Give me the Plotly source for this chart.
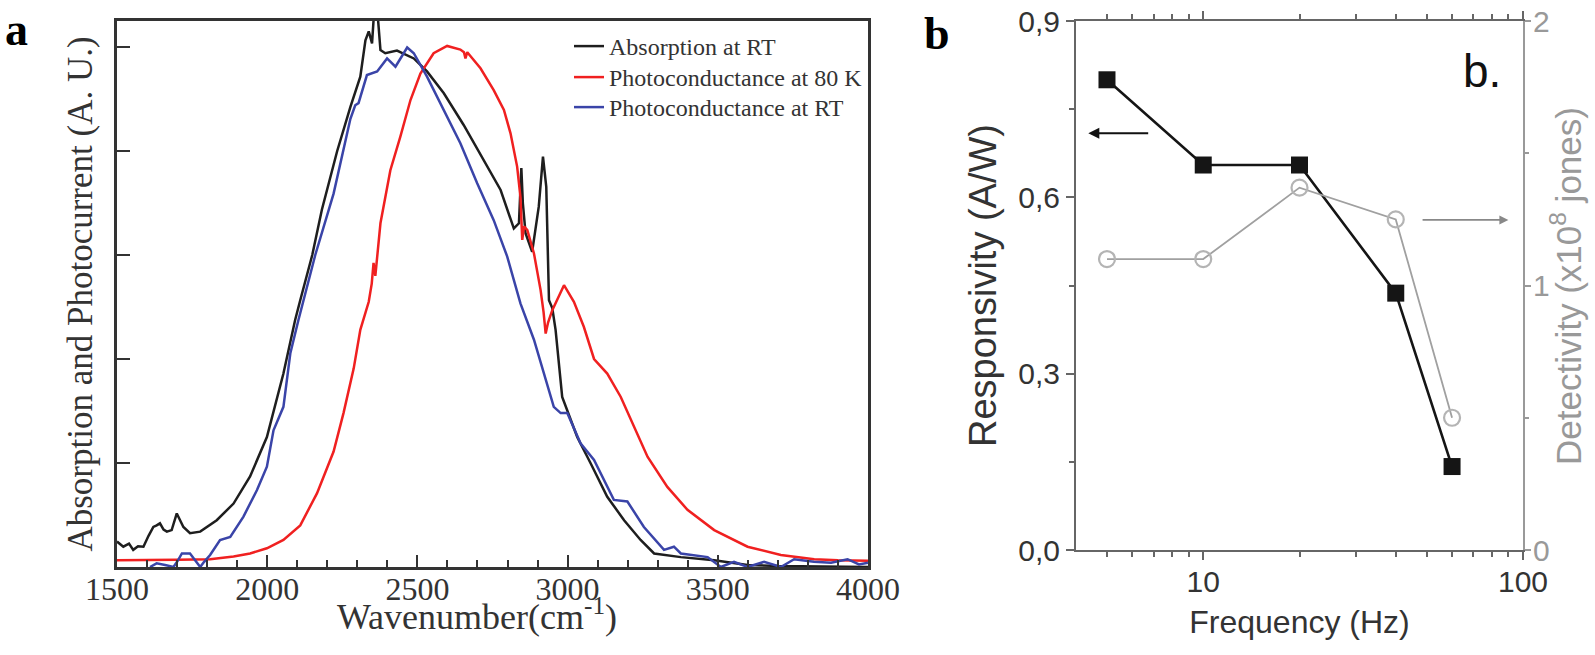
import numpy as np
import plotly.graph_objects as go

# ---------------- Panel a: spectra ----------------
abs_x = [1500, 1521, 1540, 1554, 1570, 1588, 1605, 1621, 1632, 1643, 1655, 1666, 1682, 1699,
         1710, 1721, 1743, 1777, 1832, 1888, 1943, 1999, 2054, 2093, 2110, 2150, 2182, 2233,
         2277, 2310, 2327, 2338, 2349, 2355, 2360, 2368, 2377, 2393, 2432, 2488, 2532, 2588,
         2654, 2721, 2777, 2821, 2838, 2846, 2851, 2860, 2882, 2904, 2918, 2929, 2938, 2949,
         2960, 2982, 3032, 3077, 3132, 3188, 3243, 3288, 3377, 3488, 3599, 3700, 3800, 3900, 4000]
abs_y = [0.049, 0.039, 0.045, 0.033, 0.040, 0.039, 0.060, 0.077, 0.080, 0.084, 0.072, 0.068, 0.071, 0.103,
         0.090, 0.077, 0.065, 0.068, 0.090, 0.122, 0.174, 0.250, 0.372, 0.475, 0.513, 0.600, 0.687, 0.800,
         0.885, 0.943, 1.013, 1.030, 1.007, 1.060, 1.060, 1.060, 0.994, 0.988, 0.993, 0.978, 0.953, 0.911,
         0.850, 0.783, 0.725, 0.651, 0.661, 0.767, 0.700, 0.642, 0.606, 0.693, 0.789, 0.731, 0.513, 0.498,
         0.456, 0.327, 0.250, 0.199, 0.135, 0.090, 0.052, 0.026, 0.019, 0.013, 0.004, 0.002, 0.001, 0.0, 0.0]

pc80_x = [1500, 1600, 1700, 1810, 1888, 1943, 1999, 2054, 2110, 2166, 2221, 2254, 2288, 2310, 2338,
          2348, 2354, 2360, 2377, 2410, 2443, 2477, 2510, 2554, 2599, 2643, 2655, 2660, 2666, 2710,
          2754, 2788, 2810, 2832, 2843, 2849, 2855, 2866, 2888, 2910, 2920, 2927, 2935, 2949, 2988,
          3021, 3054, 3088, 3132, 3177, 3221, 3266, 3332, 3399, 3488, 3599, 3710, 3821, 3900, 4000]
pc80_y = [0.013, 0.013, 0.014, 0.015, 0.020, 0.026, 0.036, 0.052, 0.080, 0.142, 0.222, 0.296, 0.382, 0.456, 0.510,
          0.545, 0.585, 0.560, 0.661, 0.763, 0.827, 0.898, 0.949, 0.988, 1.002, 0.995, 0.990, 0.978, 0.990, 0.959,
          0.917, 0.879, 0.834, 0.770, 0.712, 0.629, 0.655, 0.648, 0.603, 0.533, 0.490, 0.449, 0.470, 0.494, 0.542,
          0.510, 0.462, 0.400, 0.372, 0.327, 0.270, 0.212, 0.154, 0.110, 0.071, 0.039, 0.023, 0.015, 0.013, 0.012]

pcrt_x = [1610, 1632, 1660, 1688, 1700, 1716, 1743, 1760, 1777, 1790, 1810, 1843, 1877, 1921, 1966,
          1999, 2021, 2054, 2077, 2104, 2121, 2160, 2221, 2277, 2293, 2304, 2332, 2366, 2399, 2427,
          2466, 2488, 2532, 2588, 2643, 2699, 2754, 2799, 2843, 2888, 2954, 2977, 2999, 3043, 3088,
          3154, 3199, 3254, 3321, 3354, 3377, 3466, 3510, 3554, 3599, 3654, 3710, 3754, 3820, 3877,
          3932, 3970, 4000]
pcrt_y = [0.000, 0.007, 0.004, 0.000, 0.010, 0.026, 0.026, 0.012, 0.000, 0.010, 0.023, 0.052, 0.058, 0.097, 0.148,
          0.193, 0.263, 0.308, 0.411, 0.475, 0.513, 0.600, 0.718, 0.862, 0.888, 0.892, 0.946, 0.953, 0.978, 0.962,
          0.999, 0.988, 0.943, 0.879, 0.815, 0.738, 0.667, 0.597, 0.507, 0.437, 0.308, 0.296, 0.296, 0.238, 0.206,
          0.129, 0.126, 0.077, 0.033, 0.039, 0.026, 0.019, 0.000, 0.010, 0.000, 0.010, 0.000, 0.015, 0.010, 0.008,
          0.015, 0.005, 0.008]

wn_ticks = [1500, 2000, 2500, 3000, 3500, 4000]
au_ticks = [0.2, 0.4, 0.6, 0.8, 1.0]

# ---------------- Panel b: responsivity / detectivity ----------------
freq = [5, 10, 20, 40, 60]
responsivity = [0.80, 0.655, 0.655, 0.437, 0.142]
detectivity = [1.10, 1.10, 1.37, 1.25, 0.50]
resp_ticks = [0.0, 0.3, 0.6, 0.9]
resp_ticktext = ["0,0", "0,3", "0,6", "0,9"]
det_ticks = [0, 1, 2]
freq_ticks = [10, 100]
freq_minor = [5, 6, 7, 8, 9, 20, 30, 40, 50, 60, 70, 80, 90]

SERIF = "Liberation Serif"
SANS = "Liberation Sans"
W, H = 1595, 655


def px(x):
    return x / W


def py(y):
    return 1 - y / H


fig = go.Figure()
fig.add_trace(go.Scatter(x=abs_x, y=abs_y, mode="lines", name="Absorption at RT",
                         line=dict(color="#1e1e1e", width=2.5), xaxis="x", yaxis="y",
                         legend="legend"))
fig.add_trace(go.Scatter(x=pc80_x, y=pc80_y, mode="lines", name="Photoconductance at 80 K",
                         line=dict(color="#f02020", width=2.5), xaxis="x", yaxis="y",
                         legend="legend2"))
fig.add_trace(go.Scatter(x=pcrt_x, y=pcrt_y, mode="lines", name="Photoconductance at RT",
                         line=dict(color="#3a44a8", width=2.5), xaxis="x", yaxis="y",
                         legend="legend3"))

fig.add_trace(go.Scatter(x=freq, y=detectivity, mode="lines+markers", showlegend=False,
                         name="Detectivity",
                         line=dict(color="#a0a0a0", width=1.8),
                         marker=dict(symbol="circle-open", size=16, color="#b4b4b4",
                                     line=dict(width=2.2)),
                         xaxis="x2", yaxis="y3"))
fig.add_trace(go.Scatter(x=freq, y=responsivity, mode="lines+markers", showlegend=False,
                         name="Responsivity",
                         line=dict(color="#151515", width=2.6),
                         marker=dict(symbol="square", size=17, color="#151515"),
                         xaxis="x2", yaxis="y2"))

ax_a_col = "#333333"
leg_common = dict(xanchor="left", yanchor="top", bgcolor="rgba(0,0,0,0)",
                  font=dict(family=SERIF, size=24, color="#333"))
fig.update_layout(
    template="none",
    width=W, height=H, autosize=False,
    margin=dict(l=0, r=0, t=0, b=0, pad=0),
    paper_bgcolor="white", plot_bgcolor="white",
    showlegend=True,
    legend=dict(x=px(569), y=py(24), **leg_common),
    legend2=dict(x=px(569), y=py(55), **leg_common),
    legend3=dict(x=px(569), y=py(85), **leg_common),
    xaxis=dict(domain=[px(117), px(868)], range=[1500, 4000], anchor="y", automargin=False,
               tickvals=wn_ticks, ticks="inside", ticklen=12, tickwidth=2, tickcolor=ax_a_col,
               minor=dict(dtick=100, tick0=1500, ticks="inside", ticklen=7, tickwidth=2,
                          tickcolor=ax_a_col),
               showline=True, linecolor=ax_a_col, linewidth=2.5, mirror=True,
               showgrid=False, zeroline=False, ticklabeloverflow="allow",
               tickfont=dict(family=SERIF, size=32, color="#333"), ticklabelstandoff=-8),
    yaxis=dict(domain=[py(567), py(21)], range=[0, 1.05], anchor="x", automargin=False,
               tickvals=au_ticks, showticklabels=False, ticks="inside", ticklen=13, tickwidth=2,
               tickcolor=ax_a_col, showline=True, linecolor=ax_a_col, linewidth=2.5, mirror=True,
               showgrid=False, zeroline=False,
               title=dict(text="Absorption and Photocurrent (A. U.)",
                          font=dict(family=SERIF, size=35, color="#333"), standoff=12)),
    xaxis2=dict(domain=[px(1076), px(1523)], type="log", range=[np.log10(4), 2], anchor="y2",
                automargin=False,
                tickvals=freq_ticks, ticktext=["10", "100"], ticks="outside", ticklen=8, tickwidth=1.5,
                tickcolor="#666", minor=dict(tickvals=freq_minor, ticks="outside", ticklen=5,
                                             tickwidth=1.5, tickcolor="#666"),
                showline=True, linecolor="#666", linewidth=2, mirror="ticks",
                showgrid=False, zeroline=False, ticklabeloverflow="allow",
                tickfont=dict(family=SANS, size=30, color="#333"), ticklabelstandoff=-4,
                title=dict(text="Frequency (Hz)", font=dict(family=SANS, size=32, color="#333"),
                           standoff=14)),
    yaxis2=dict(domain=[py(550), py(21)], range=[0, 0.9], anchor="x2", automargin=False,
                tickvals=resp_ticks, ticktext=resp_ticktext, ticks="outside", ticklen=8, tickwidth=1.5,
                tickcolor="#666", minor=dict(tickvals=[0.15, 0.45, 0.75], ticks="outside", ticklen=5,
                                             tickwidth=1.5, tickcolor="#666"),
                showline=True, linecolor="#666", linewidth=2, showgrid=False, zeroline=False,
                ticklabeloverflow="allow",
                tickfont=dict(family=SANS, size=30, color="#333"),
                title=dict(text="Responsivity (A/W)", font=dict(family=SANS, size=38, color="#333"),
                           standoff=10)),
    yaxis3=dict(overlaying="y2", side="right", range=[0, 2], anchor="x2", automargin=False,
                tickvals=det_ticks, ticks="outside", ticklen=6, tickwidth=1.5, tickcolor="#999",
                minor=dict(tickvals=[0.5, 1.5], ticks="outside", ticklen=4, tickwidth=1.5,
                           tickcolor="#999"),
                showline=True, linecolor="#999", linewidth=2, showgrid=False, zeroline=False,
                ticklabeloverflow="allow",
                tickfont=dict(family=SANS, size=30, color="#999"), ticklabelstandoff=-4),
)

annotations = [
    dict(text="Wavenumber(cm<sup>-1</sup>)", x=px(477), y=py(639), xref="paper", yref="paper",
         xanchor="center", yanchor="bottom", showarrow=False,
         font=dict(family=SERIF, size=36, color="#333")),
    dict(text="Detectivity (x10<sup>8</sup> jones)", x=px(1566), y=py(286), xref="paper",
         yref="paper", xanchor="center", yanchor="middle", textangle=-90, showarrow=False,
         font=dict(family=SANS, size=35, color="#999")),
    dict(text="<b>a</b>", x=px(3), y=py(57), xref="paper", yref="paper", xanchor="left",
         yanchor="bottom", showarrow=False, font=dict(family=SERIF, size=46, color="#000")),
    dict(text="<b>b</b>", x=px(922), y=py(61), xref="paper", yref="paper", xanchor="left",
         yanchor="bottom", showarrow=False, font=dict(family=SERIF, size=46, color="#000")),
    dict(text="b.", x=px(1503), y=py(71), xref="paper", yref="paper", xanchor="right",
         yanchor="middle", showarrow=False, font=dict(family=SANS, size=46, color="#111")),
    # arrow to the left axis (responsivity)
    dict(text="", x=np.log10(4.37), y=0.709, ax=np.log10(6.8), ay=0.709,
         xref="x2", yref="y2", axref="x2", ayref="y2", showarrow=True,
         arrowhead=2, arrowsize=1, arrowwidth=2.2, arrowcolor="#111"),
    # arrow to the right axis (detectivity)
    dict(text="", x=np.log10(90), y=0.5615, ax=np.log10(48), ay=0.5615,
         xref="x2", yref="y2", axref="x2", ayref="y2", showarrow=True,
         arrowhead=2, arrowsize=1, arrowwidth=1.8, arrowcolor="#888"),
]
fig.update_layout(annotations=annotations)

fig.write_html("out.html", config={"displayModeBar": False},
               post_script="document.body.style.margin='0';")
